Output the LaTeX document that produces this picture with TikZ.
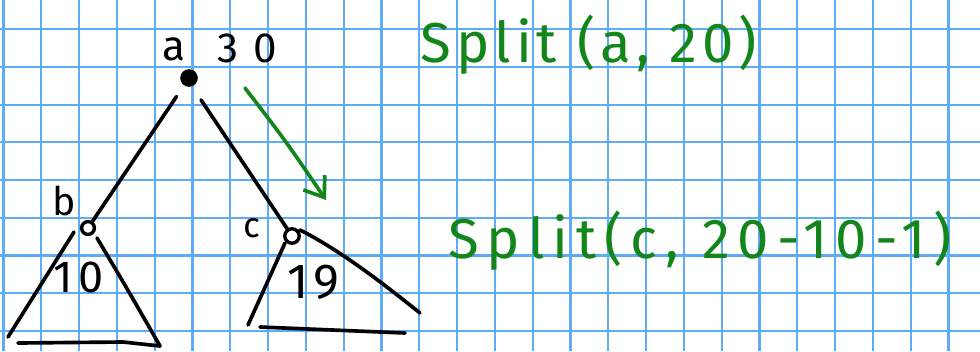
\documentclass[tikz,border=0pt]{standalone}
\usepackage{fontspec}
\setmainfont{Fira Sans}
\usetikzlibrary{arrows.meta,positioning}
\definecolor{NoteGrid}{HTML}{5EABF8}
\definecolor{NoteGreen}{HTML}{12861A}
\tikzset{
  >=Latex,
  gridline/.style={draw=NoteGrid,line width=1.5pt},
  pen/.style={draw=black,line width=2.6pt,line cap=round,line join=round},
  greenpen/.style={draw=NoteGreen,line width=2.6pt,line cap=round,line join=round},
  rootdot/.style={circle,fill=black,inner sep=0pt,minimum size=4.4mm},
  holenode/.style={circle,draw=black,line width=2.4pt,inner sep=0pt,minimum size=3.2mm},
  namelabel/.style={font=\fontsize{28}{28}\selectfont,inner sep=0pt,anchor=base},
  sizelabel/.style={font=\fontsize{32}{32}\selectfont\addfontfeature{LetterSpace=12},inner sep=0pt,anchor=base west},
  calllabel/.style={text=NoteGreen,inner sep=0pt,anchor=base west}
}
\begin{document}
\begin{tikzpicture}[x=0.025cm,y=-0.025cm]
  \useasboundingbox (0,0) rectangle (980,351);
  \fill[white] (0,0) rectangle (980,351);
  % squared paper
  \foreach \k in {0,...,25}
    \draw[gridline] (3.5+37.8*\k,0) -- (3.5+37.8*\k,351);
  \foreach \k in {1,...,9}
    \draw[gridline] (0,-8.4+37.7*\k) -- (980,-8.4+37.7*\k);

  % tree
  \node[rootdot] (a) at (189,78) {};
  \node[holenode] (b) at (88,228) {};
  \node[holenode,minimum size=3.6mm] (c) at (292,236) {};
  \draw[pen,shorten <=3.3mm] (a) -- (b);
  \draw[pen,shorten <=4mm] (a.-70) -- (c);

  \node[namelabel,font=\fontsize{30}{30}\selectfont] (aname) at (174,60) {a};
  \node[sizelabel,font=\fontsize{30}{30}\selectfont\addfontfeature{LetterSpace=37}] (asize) at (217,62) {30};
  \node[namelabel] (bname) at (64,215) {b};
  \node[sizelabel] (bsize) at (53,292) {10};
  \node[namelabel,font=\fontsize{25}{25}\selectfont] (cname) at (252,237) {c};
  \node[sizelabel,font=\fontsize{35}{35}\selectfont\addfontfeature{LetterSpace=10}] (csize) at (287,298) {19};

  % subtree of b
  \coordinate (bl0) at (74,232);
  \coordinate (bl1) at (8,337);
  \coordinate (br0) at (97,238);
  \coordinate (br1) at (160,346);
  \coordinate (bb0) at (18,343);
  \coordinate (bb1) at (123,342);
  \draw[pen] (bl0) -- (bl1);
  \draw[pen] (br0) .. controls (125,285) .. (br1);
  \draw[pen] (bb0) -- (bb1) -- (br1);

  % subtree of c
  \coordinate (cl0) at (285,243);
  \coordinate (cl1) at (248,325);
  \coordinate (cr0) at (300,230);
  \coordinate (cr1) at (420,313);
  \coordinate (cb0) at (260,327);
  \coordinate (cb1) at (405,333);
  \draw[pen] (cl0) -- (cl1);
  \draw[pen] (cr0) .. controls (340,250) and (385,285) .. (cr1);
  \draw[pen] (cb0) -- (cb1);

  % recursive calls
  \coordinate (hintS) at (245,88);
  \coordinate (hintE) at (326,200);
  \draw[greenpen,-{Straight Barb[length=4.5mm,width=6.5mm]}] (hintS) .. controls (285,140) .. (hintE);
  \node[calllabel,font=\fontsize{40}{40}\selectfont\addfontfeature{LetterSpace=9}] (splitA) at (420,62) {Split (a, 20)};
  \node[calllabel,font=\fontsize{40}{40}\selectfont\addfontfeature{LetterSpace=14}] (splitC) at (448,258) {Split(c, 20-10-1)};
\end{tikzpicture}
\end{document}
